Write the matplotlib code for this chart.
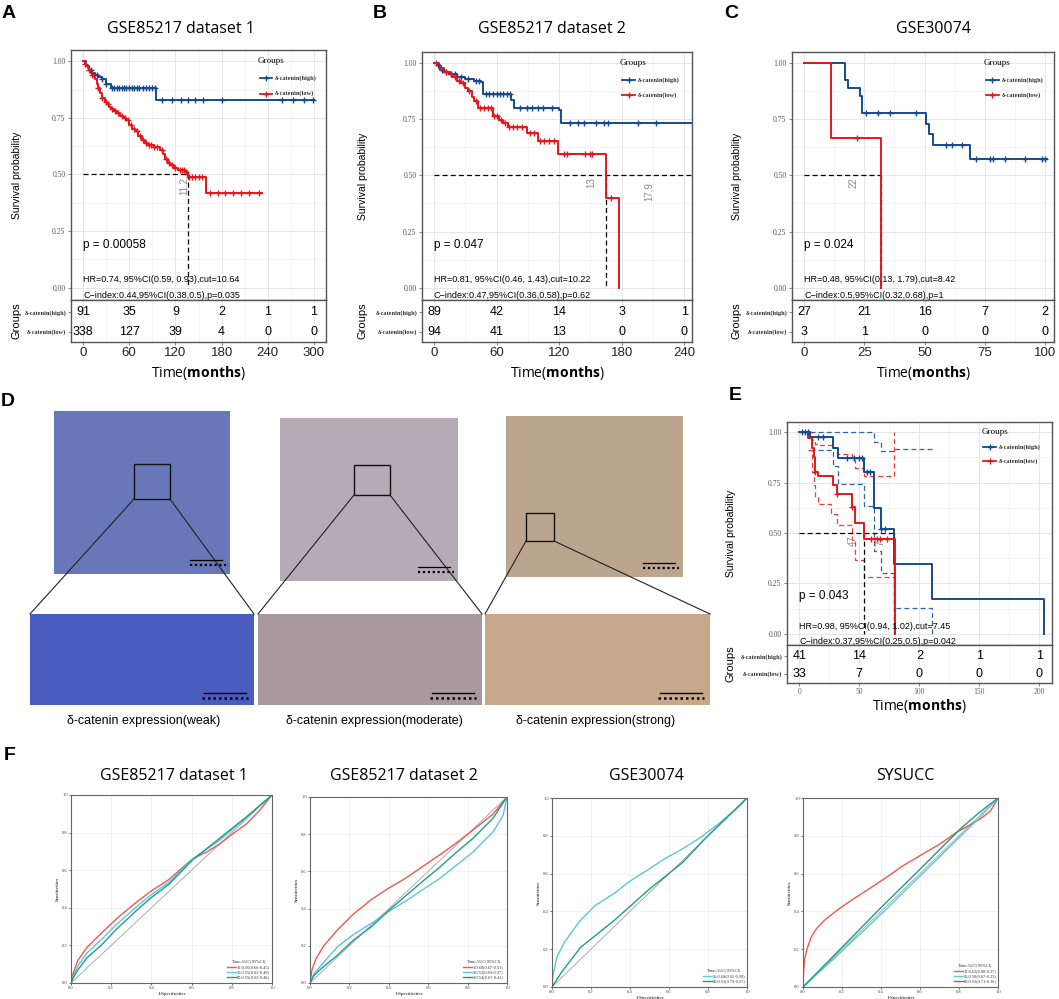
import numpy as np
import matplotlib
matplotlib.use('Agg')
import matplotlib.pyplot as plt
from matplotlib.patches import Rectangle
from matplotlib import font_manager

# ---------------- DATA ----------------
# Panel A  (GSE85217 dataset 1)
A_high_t = [0, 4, 8, 12, 16, 20, 25, 30, 36, 95]
A_high_s = [1.0, 0.98, 0.96, 0.95, 0.94, 0.93, 0.92, 0.90, 0.88, 0.83]
A_high_end = 300
A_low_t = [0, 2, 4, 6, 8, 10, 12, 14, 16, 18, 20, 22, 25, 28, 31, 34, 37, 40, 44, 48, 52, 56,
           60, 64, 68, 72, 76, 80, 84, 92, 100, 104, 106, 110, 113, 118, 124, 132, 136, 160]
A_low_s = [1.0, 0.99, 0.98, 0.97, 0.96, 0.95, 0.94, 0.93, 0.92, 0.90, 0.88, 0.86, 0.84, 0.82, 0.81,
           0.80, 0.79, 0.78, 0.77, 0.76, 0.75, 0.74, 0.72, 0.70, 0.69, 0.67, 0.65, 0.64, 0.63, 0.62,
           0.61, 0.59, 0.57, 0.55, 0.54, 0.53, 0.52, 0.51, 0.49, 0.42]
A_low_end = 232
A_high_cens = [10, 18, 25, 30, 38, 40, 44, 47, 50, 53, 56, 60, 63, 66, 70, 73, 78, 82, 86, 90, 93,
               103, 115, 127, 136, 146, 156, 180, 258, 273, 287, 299]
A_low_cens = [3, 8, 12, 20, 25, 30, 33, 38, 42, 46, 50, 55, 58, 62, 66, 70, 74, 78, 82, 86, 88, 92,
              96, 102, 108, 112, 116, 120, 126, 128, 131, 134, 138, 142, 146, 150, 154, 165, 175,
              185, 195, 205, 215, 228]
A_risk_t = [0, 60, 120, 180, 240, 300]
A_risk_high = [91, 35, 9, 2, 1, 1]
A_risk_low = [338, 127, 39, 4, 0, 0]

# Panel B  (GSE85217 dataset 2)
B_high_t = [0, 3, 6, 10, 15, 22, 30, 38, 45, 47, 74, 77, 120, 122]
B_high_s = [1.0, 0.99, 0.97, 0.96, 0.95, 0.94, 0.93, 0.92, 0.915, 0.864, 0.835, 0.80, 0.79, 0.733]
B_high_end = 250
B_low_t = [0, 5, 10, 14, 18, 22, 26, 30, 33, 36, 38, 42, 57, 62, 66, 71, 89, 100, 119, 165, 177]
B_low_s = [1.0, 0.98, 0.96, 0.95, 0.94, 0.92, 0.91, 0.89, 0.876, 0.85, 0.833, 0.80, 0.763, 0.745,
           0.733, 0.715, 0.687, 0.655, 0.597, 0.40, 0.0]
B_low_end = 177
B_high_cens = [4, 8, 12, 16, 20, 26, 33, 40, 43, 50, 53, 57, 60, 63, 66, 70, 73, 82.5, 89, 94, 100,
               105, 113, 130, 138, 144, 155.5, 163.5, 166.7, 195.5, 213]
B_low_cens = [2, 7, 12, 16, 20, 24, 28, 34, 40, 44, 48, 52, 55, 58, 60, 64, 68, 72, 76, 80, 84, 92,
              96, 102, 106, 110, 115, 125, 128, 145, 150, 152, 170]
B_risk_t = [0, 60, 120, 180, 240]
B_risk_high = [89, 42, 14, 3, 1]
B_risk_low = [94, 41, 13, 0, 0]

# Panel C  (GSE30074)
C_high_t = [0, 17, 18.4, 23.2, 24.2, 50.7, 52, 53.5, 68.7]
C_high_s = [1.0, 0.925, 0.889, 0.852, 0.78, 0.731, 0.683, 0.634, 0.572]
C_high_end = 101
C_low_t = [0, 11, 31.8]
C_low_s = [1.0, 0.667, 0.0]
C_low_end = 31.8
C_high_cens = [25.5, 30.5, 35.6, 46.4, 58.9, 61.5, 65.6, 71.3, 77.3, 78.5, 83.4, 91.7, 98.6, 100]
C_low_cens = [21.8]
C_risk_t = [0, 25, 50, 75, 100]
C_risk_high = [27, 21, 16, 7, 2]
C_risk_low = [3, 1, 0, 0, 0]

# Panel E  (SYSUCC)
E_high_t = [0, 8.9, 27.8, 32.5, 53.9, 62.2, 67.8, 78.9, 110.8, 203.9]
E_high_s = [1.0, 0.975, 0.922, 0.873, 0.80, 0.625, 0.52, 0.344, 0.172, 0.0]
E_high_end = 203.9
E_low_t = [0, 6.9, 10.5, 11.9, 13.3, 15.3, 27.8, 31.1, 43.6, 46.4, 53.9, 79.5]
E_low_s = [1.0, 0.97, 0.92, 0.875, 0.80, 0.78, 0.74, 0.694, 0.631, 0.549, 0.471, 0.0]
E_low_end = 79.5
E_high_cens = [1.9, 4.7, 7.5, 15.8, 20, 39.7, 45.3, 49.4, 52.2, 56.4, 59.2, 68.3, 71]
E_low_cens = [13.3, 31.1, 43.6, 59.7, 64.7, 67.5, 73]
E_high_up_t = [8.9, 62.2, 67.8, 78.9, 110.8]
E_high_up_s = [1.0, 0.95, 0.904, 0.915, 0.915]
E_high_lo_t = [8.9, 27.8, 32.5, 53.9, 62.2, 67.8, 78.9, 110.8]
E_high_lo_s = [0.91, 0.83, 0.745, 0.636, 0.413, 0.30, 0.13, 0.0]
E_low_up_t = [6.9, 10.5, 11.9, 13.3, 15.3, 27.8, 31.1, 43.6, 46.4, 53.9, 78.9]
E_low_up_s = [1.0, 0.96, 0.95, 0.94, 0.935, 0.92, 0.89, 0.86, 0.82, 0.78, 1.0]
E_low_lo_t = [6.9, 10.5, 11.9, 13.3, 15.3, 26.4, 31.1, 43.6, 46.4, 53.9, 78.9]
E_low_lo_s = [0.91, 0.80, 0.74, 0.68, 0.645, 0.595, 0.54, 0.463, 0.367, 0.284, 0.0]
E_risk_t = [0, 50, 100, 150, 200]
E_risk_high = [41, 14, 2, 1, 1]
E_risk_low = [33, 7, 0, 0, 0]

# ROC curves (F)
R1_red_x = [0, 0.01, 0.034, 0.08, 0.15, 0.23, 0.32, 0.40, 0.487, 0.55, 0.605, 0.68, 0.74, 0.80, 0.874, 0.94, 1.0]
R1_red_y = [0, 0.05, 0.12, 0.19, 0.264, 0.345, 0.425, 0.49, 0.55, 0.61, 0.66, 0.70, 0.74, 0.79, 0.847, 0.92, 1.0]
R1_cyan_x = [0, 0.01, 0.034, 0.08, 0.15, 0.23, 0.32, 0.40, 0.487, 0.605, 0.74, 0.874, 1.0]
R1_cyan_y = [0, 0.035, 0.09, 0.16, 0.23, 0.315, 0.40, 0.47, 0.535, 0.66, 0.76, 0.88, 1.0]
R1_teal_x = [0, 0.01, 0.034, 0.08, 0.15, 0.23, 0.32, 0.40, 0.487, 0.605, 0.74, 0.874, 1.0]
R1_teal_y = [0, 0.025, 0.07, 0.135, 0.20, 0.29, 0.38, 0.455, 0.525, 0.655, 0.77, 0.885, 1.0]
R2_red_x = [0, 0.01, 0.03, 0.07, 0.14, 0.22, 0.313, 0.40, 0.485, 0.57, 0.656, 0.74, 0.828, 0.93, 1.0]
R2_red_y = [0, 0.07, 0.13, 0.20, 0.286, 0.37, 0.45, 0.51, 0.563, 0.625, 0.687, 0.75, 0.823, 0.909, 1.0]
R2_cyan_x = [0, 0.02, 0.06, 0.14, 0.22, 0.313, 0.40, 0.485, 0.57, 0.656, 0.74, 0.828, 0.93, 0.98, 1.0]
R2_cyan_y = [0, 0.05, 0.10, 0.195, 0.26, 0.322, 0.385, 0.44, 0.50, 0.56, 0.63, 0.705, 0.814, 0.90, 1.0]
R2_teal_x = [0, 0.02, 0.06, 0.14, 0.22, 0.313, 0.40, 0.485, 0.57, 0.656, 0.74, 0.828, 0.93, 1.0]
R2_teal_y = [0, 0.04, 0.08, 0.15, 0.23, 0.304, 0.39, 0.468, 0.545, 0.62, 0.70, 0.778, 0.887, 1.0]
R3_cyan_x = [0, 0.005, 0.024, 0.06, 0.10, 0.147, 0.22, 0.321, 0.40, 0.496, 0.58, 0.67, 0.76, 0.845, 0.95, 1.0]
R3_cyan_y = [0, 0.06, 0.156, 0.23, 0.29, 0.354, 0.43, 0.497, 0.56, 0.623, 0.68, 0.731, 0.79, 0.856, 0.946, 1.0]
R3_teal_x = [0, 0.05, 0.147, 0.321, 0.496, 0.67, 0.79, 0.9, 1.0]
R3_teal_y = [0, 0.08, 0.21, 0.354, 0.515, 0.659, 0.79, 0.9, 1.0]
R4_red_x = [0, 0.002, 0.007, 0.02, 0.042, 0.07, 0.111, 0.18, 0.251, 0.34, 0.425, 0.51, 0.60, 0.70, 0.79, 0.86, 0.913, 0.96, 0.99, 1.0]
R4_red_y = [0, 0.06, 0.138, 0.20, 0.264, 0.31, 0.354, 0.41, 0.461, 0.52, 0.578, 0.64, 0.695, 0.755, 0.82, 0.86, 0.892, 0.93, 0.98, 1.0]
R4_cyan_x = [0, 0.2, 0.4, 0.6, 0.8, 0.9, 1.0]
R4_cyan_y = [0, 0.19, 0.385, 0.587, 0.79, 0.89, 1.0]
R4_teal_x = [0, 0.2, 0.4, 0.6, 0.8, 0.9, 1.0]
R4_teal_y = [0, 0.21, 0.42, 0.623, 0.83, 0.92, 1.0]
R1_leg = ["12:0.56(0.66-0.45)", "36:0.55(0.62-0.48)", "60:0.55(0.63-0.48)"]
R2_leg = ["1:0.60(0.67-0.53)", "3:0.53(0.69-0.37)", "5:0.54(0.67-0.41)"]
R3_leg = ["36:0.60(0.91-0.30)", "60:0.53(0.79-0.27)"]
R4_leg = ["12:0.63(0.90-0.37)", "36:0.50(0.67-0.33)", "60:0.53(0.71-0.36)"]

# ---------------- STYLE ----------------
W, H = 1059, 999
fig = plt.figure(figsize=(W / 100, H / 100), dpi=100)
avail = {f.name for f in font_manager.fontManager.ttflist}
SANS = 'Liberation Sans'
NARROW = 'Liberation Sans Narrow' if 'Liberation Sans Narrow' in avail else 'Liberation Sans'
SERIF = 'Liberation Serif'
TITLE = 'Open Sans' if 'Open Sans' in avail else 'DejaVu Sans'
plt.rcParams['mathtext.fontset'] = 'custom'
plt.rcParams['mathtext.rm'] = TITLE
plt.rcParams['mathtext.bf'] = TITLE + ':bold'
BLUE = '#174a8c'
RED = '#e3171c'
RROC = '#f0584f'
CROC = '#5cc6dc'
TROC = '#1e9e88'
GRID_MAJ = '#e6e6e6'
GRID_MIN = '#f2f2f2'


def add_ax(x0, y0, x1, y1):
    return fig.add_axes([x0 / W, 1 - y1 / H, (x1 - x0) / W, (y1 - y0) / H])


def ftext(x, y, s, **kw):
    fig.text(x / W, 1 - y / H, s, **kw)


# overlay for panel D / drawing
ov = fig.add_axes([0, 0, 1, 1], zorder=-1)
ov.set_xlim(0, W)
ov.set_ylim(H, 0)
ov.axis('off')


def surv_at(t, s, x):
    idx = np.searchsorted(np.asarray(t), np.asarray(x), side='right') - 1
    return np.asarray(s)[idx]


def km_panel(box, tbox, xlim, xticks, curves, cens, medians, medtexts, ptxt, hrtxt, citxt,
             risk, ylab_x, title=None, title_xy=None, ci=None, xlabel_y=None, small_ticks=False):
    ax = add_ax(*box)
    ax.set_xlim(*xlim)
    ax.set_ylim(-0.055, 1.05)
    major = xticks
    step = xticks[1] - xticks[0]
    minor = [v + step / 2 for v in xticks[:-1]] + [xticks[0] - step / 2, xticks[-1] + step / 2]
    for v in minor:
        ax.axvline(v, color=GRID_MIN, lw=0.5, zorder=0)
    for v in [0.125, 0.375, 0.625, 0.875]:
        ax.axhline(v, color=GRID_MIN, lw=0.5, zorder=0)
    for v in major:
        ax.axvline(v, color=GRID_MAJ, lw=0.7, zorder=0)
    for v in [0, 0.25, 0.5, 0.75, 1.0]:
        ax.axhline(v, color=GRID_MAJ, lw=0.7, zorder=0)
    ax.set_yticks([0, 0.25, 0.5, 0.75, 1.0])
    ax.set_yticklabels(['0.00', '0.25', '0.50', '0.75', '1.00'], fontfamily=SERIF, fontsize=5.5,
                       color='#555555')
    ax.set_xticks([])
    ax.tick_params(axis='y', length=2, width=0.5, color='#555555', pad=2)
    for sp in ax.spines.values():
        sp.set_color('#555555')
        sp.set_linewidth(1.0)
    # CI
    if ci is not None:
        for (t, s, col) in ci:
            ax.step(t, s, where='post', color=col, lw=0.9, ls=(0, (4, 2.5)), zorder=2)
    # median lines
    hx, vx = medians
    ax.plot([0, hx], [0.5, 0.5], color='black', lw=0.9, ls=(0, (4, 2.5)), zorder=2)
    for v in vx:
        ax.plot([v, v], [0.5, 0], color='black', lw=0.9, ls=(0, (4, 2.5)), zorder=2)
    for (x, y, s) in medtexts:
        ax.text(x, y, s, rotation=90, ha='center', va='top', fontsize=7, color='#8c8c8c',
                fontfamily=SANS, zorder=3)
    # curves
    for (t, s, end, col), c in zip(curves, cens):
        tt = list(t) + [end]
        ss = list(s) + [s[-1]]
        ax.step(tt, ss, where='post', color=col, lw=1.4, zorder=4)
        cy = surv_at(t, s, c)
        ax.plot(c, cy, ls='none', marker='+', ms=4.5, mew=1.0, color=col, zorder=5)
    ax.text(0, 0.19, ptxt, fontsize=8.5, fontfamily=SANS, va='center', ha='left', zorder=6)
    ax.text(0, 0.035, hrtxt, fontsize=6.5, fontfamily=SANS, va='center', ha='left', zorder=6)
    ax.text(0, -0.036, citxt, fontsize=6.5, fontfamily=SANS, va='center', ha='left', zorder=6,
            clip_on=True)
    # legend (manual)
    ax.text(0.733, 0.955, 'Groups', transform=ax.transAxes, fontsize=6.5, fontfamily=SERIF,
            va='center', ha='left')
    for yy, col, lab in [(0.888, BLUE, 'δ-catenin(high)'), (0.826, RED, 'δ-catenin(low)')]:
        ax.plot([0.74, 0.79], [yy, yy], color=col, lw=1.3, transform=ax.transAxes, clip_on=False)
        ax.plot([0.765], [yy], marker='+', ms=4, mew=1, color=col, transform=ax.transAxes,
                clip_on=False)
        ax.text(0.80, yy, lab, transform=ax.transAxes, fontsize=4.6, fontfamily=SERIF,
                fontweight='bold', va='center', ha='left', color='#333333')
    # risk table
    at = add_ax(*tbox)
    at.set_xlim(*xlim)
    at.set_ylim(0, 2)
    for v in minor:
        at.axvline(v, color=GRID_MIN, lw=0.5, zorder=0)
    for v in major:
        at.axvline(v, color=GRID_MAJ, lw=0.7, zorder=0)
    rt, rh, rl = risk
    for x, a, b in zip(rt, rh, rl):
        at.text(x, 1.42, str(a), ha='center', va='center', fontsize=9, fontfamily=NARROW)
        at.text(x, 0.48, str(b), ha='center', va='center', fontsize=9, fontfamily=NARROW)
    at.set_yticks([1.42, 0.48])
    at.set_yticklabels(['δ-catenin(high)', 'δ-catenin(low)'], fontfamily=SERIF, fontsize=4.6,
                       fontweight='bold', color='#333333')
    at.set_xticks(major)
    if small_ticks:
        at.set_xticklabels([str(v) for v in major], fontfamily=SERIF, fontsize=5.5,
                           color='#666666')
    else:
        at.set_xticklabels([str(v) for v in major], fontfamily=NARROW, fontsize=9.5,
                           color='#222222')
    at.tick_params(axis='both', length=2, width=0.5, color='#555555', pad=1.5)
    for sp in at.spines.values():
        sp.set_color('#555555')
        sp.set_linewidth(1.0)
    # labels
    ftext(ylab_x, (box[1] + box[3]) / 2, 'Survival probability', rotation=90, ha='center',
          va='center', fontsize=7.5, fontfamily=SANS)
    ftext(ylab_x, (tbox[1] + tbox[3]) / 2, 'Groups', rotation=90, ha='center', va='center',
          fontsize=8, fontfamily=SANS)
    ftext((box[0] + box[2]) / 2, xlabel_y, r'Time($\mathbf{months}$)', ha='center',
          va='center', fontsize=10, fontfamily=TITLE)
    if title:
        ftext(title_xy[0], title_xy[1], title, ha='center', va='center', fontsize=11.5,
              fontfamily=TITLE)
    return ax


# Panel A
km_panel((71, 50, 326, 300), (71, 300, 326, 342), (-15.6, 315.6), A_risk_t,
         [(A_high_t, A_high_s, A_high_end, BLUE), (A_low_t, A_low_s, A_low_end, RED)],
         [A_high_cens, A_low_cens], (136, [136]), [(131, 0.49, '11.2')],
         'p = 0.00058', 'HR=0.74, 95%CI(0.59, 0.93),cut=10.64',
         'C\u2212index:0.44,95%CI(0.38,0.5),p=0.035',
         (A_risk_t, A_risk_high, A_risk_low), 17, 'GSE85217 dataset 1', (181, 29), xlabel_y=373)
# Panel B
km_panel((422, 52, 692, 300), (422, 300, 692, 342), (-11.5, 247.5), B_risk_t,
         [(B_high_t, B_high_s, B_high_end, BLUE), (B_low_t, B_low_s, B_low_end, RED)],
         [B_high_cens, B_low_cens], (247.5, [165]), [(151, 0.49, '13'), (207, 0.47, '17.9')],
         'p = 0.047', 'HR=0.81, 95%CI(0.46, 1.43),cut=10.22',
         'C\u2212index:0.47,95%CI(0.36,0.58),p=0.62',
         (B_risk_t, B_risk_high, B_risk_low), 363, 'GSE85217 dataset 2', (552, 29), xlabel_y=373)
# Panel C
km_panel((792, 52, 1054, 300), (792, 300, 1054, 342), (-5, 103.7), C_risk_t,
         [(C_high_t, C_high_s, C_high_end, BLUE), (C_low_t, C_low_s, C_low_end, RED)],
         [C_high_cens, C_low_cens], (31.8, [31.8]), [(20.6, 0.49, '22')],
         'p = 0.024', 'HR=0.48, 95%CI(0.13, 1.79),cut=8.42',
         'C\u2212index:0.5,95%CI(0.32,0.68),p=1',
         (C_risk_t, C_risk_high, C_risk_low), 737, 'GSE30074', (933, 29), xlabel_y=373)
# Panel E
km_panel((787, 422, 1052, 645), (787, 645, 1052, 683), (-10.3, 210.6), E_risk_t,
         [(E_high_t, E_high_s, E_high_end, BLUE), (E_low_t, E_low_s, E_low_end, RED)],
         [E_high_cens, E_low_cens], (79, [53.9, 79]), [(44.7, 0.49, '47'), (68, 0.49, '77')],
         'p = 0.043', 'HR=0.98, 95%CI(0.94, 1.02),cut=7.45',
         'C\u2212index:0.37,95%CI(0.25,0.5),p=0.042',
         (E_risk_t, E_risk_high, E_risk_low), 731, xlabel_y=706, small_ticks=True,
         ci=[(E_high_up_t, E_high_up_s, '#2f64a8'), (E_high_lo_t, E_high_lo_s, '#2f64a8'),
             (E_low_up_t, E_low_up_s, '#ef3b3b'), (E_low_lo_t, E_low_lo_s, '#ef3b3b')])

# ---------------- Panel D (IHC images as flat colour fields) ----------------
top_imgs = [((54, 411, 230, 574), '#6877b8'), ((280, 418, 458, 581), '#b4abb4'),
            ((506, 416, 683, 577), '#bba58f')]
bot_imgs = [((30, 614, 254, 705), '#4b5cbf'), ((258, 614, 482, 705), '#a9999e'),
            ((485, 614, 710, 705), '#c7a88a')]
for (x0, y0, x1, y1), col in top_imgs + bot_imgs:
    ov.add_patch(Rectangle((x0, y0), x1 - x0, y1 - y0, facecolor=col, edgecolor='none'))
boxes = [(134, 464, 170, 499), (354, 465, 390, 495), (526, 513, 554, 541)]
for (x0, y0, x1, y1), ((bx0, by0, bx1, by1), _) in zip(boxes, bot_imgs):
    ov.add_patch(Rectangle((x0, y0), x1 - x0, y1 - y0, facecolor='none', edgecolor='#111111',
                           lw=1.0))
    ov.plot([x0, bx0], [y1, by0], color='#222222', lw=0.8)
    ov.plot([x1, bx1], [y1, by0], color='#222222', lw=0.8)
# scale bars
for (x0, y0, x1, y1), _ in top_imgs:
    ov.plot([x1 - 40, x1 - 8], [y1 - 14, y1 - 14], color='black', lw=0.9)
    ov.plot([x1 - 40, x1 - 4], [y1 - 9, y1 - 9], color='black', lw=1.6, ls=(0, (1, 1.2)))
for (x0, y0, x1, y1), _ in bot_imgs:
    ov.plot([x1 - 50, x1 - 8], [y1 - 12, y1 - 12], color='black', lw=1.0)
    ov.plot([x1 - 52, x1 - 6], [y1 - 7, y1 - 7], color='black', lw=1.8, ls=(0, (1, 1.2)))
for x, s in [(144, 'δ-catenin expression(weak)'), (374, 'δ-catenin expression(moderate)'),
             (596, 'δ-catenin expression(strong)')]:
    ftext(x, 721, s, ha='center', va='center', fontsize=9, fontfamily=SANS)

# ---------------- Panel F (ROC) ----------------
def roc_panel(box, title, title_x, curves, legs):
    ax = add_ax(*box)
    ax.set_xlim(0, 1)
    ax.set_ylim(0, 1)
    tk = [0, 0.2, 0.4, 0.6, 0.8, 1.0]
    for v in tk[1:-1]:
        ax.axvline(v, color='#ececec', lw=0.5, zorder=0)
        ax.axhline(v, color='#ececec', lw=0.5, zorder=0)
    ax.plot([0, 1], [0, 1], color='#a0a0a0', lw=0.6, zorder=1)
    for x, y, c in curves:
        ax.plot(x, y, color=c, lw=1.0, zorder=2)
    ax.set_xticks(tk)
    ax.set_yticks(tk)
    lab = ['0.0', '0.2', '0.4', '0.6', '0.8', '1.0']
    ax.set_xticklabels(lab, fontsize=3.3, fontfamily=SERIF, color='#444444')
    ax.set_yticklabels(lab, fontsize=3.3, fontfamily=SERIF, color='#444444')
    ax.tick_params(length=1.2, width=0.4, pad=1)
    ax.set_xlabel('1-Specificities', fontsize=3.5, fontfamily=SERIF, labelpad=1.5)
    ax.set_ylabel('Sensitivities', fontsize=3.5, fontfamily=SERIF, labelpad=2)
    for sp in ax.spines.values():
        sp.set_color('#666666')
        sp.set_linewidth(0.8)
    n = len(legs)
    ax.text(0.885, 0.03 + 0.028 * (n + 0.1), 'Time:AUC(95%CI)', transform=ax.transAxes,
            fontsize=3.2, fontfamily=SERIF, ha='center', va='center', color='#333333')
    for i, (s, c) in enumerate(zip(legs, [cv[2] for cv in curves])):
        yy = 0.03 + 0.028 * (n - 1 - i)
        ax.plot([0.775, 0.82], [yy, yy], color=c, lw=1.0, transform=ax.transAxes)
        ax.text(0.825, yy, s, transform=ax.transAxes, fontsize=3.2, fontfamily=SERIF,
                ha='left', va='center', color='#333333')
    ftext(title_x, 776, title, ha='center', va='center', fontsize=11.5, fontfamily=TITLE)


roc_panel((71, 795, 272, 983), 'GSE85217 dataset 1', 174,
          [(R1_red_x, R1_red_y, RROC), (R1_cyan_x, R1_cyan_y, CROC), (R1_teal_x, R1_teal_y, TROC)],
          R1_leg)
roc_panel((310, 797, 507, 983), 'GSE85217 dataset 2', 404,
          [(R2_red_x, R2_red_y, RROC), (R2_cyan_x, R2_cyan_y, CROC), (R2_teal_x, R2_teal_y, TROC)],
          R2_leg)
roc_panel((552, 798, 747, 987), 'GSE30074', 646,
          [(R3_cyan_x, R3_cyan_y, CROC), (R3_teal_x, R3_teal_y, TROC)], R3_leg)
roc_panel((803, 798, 998, 987), 'SYSUCC', 905,
          [(R4_red_x, R4_red_y, RROC), (R4_cyan_x, R4_cyan_y, CROC), (R4_teal_x, R4_teal_y, TROC)],
          R4_leg)

# panel letters
for x, y, s in [(9, 13, 'A'), (380, 13, 'B'), (731, 13, 'C'), (8, 401, 'D'), (735, 395, 'E'),
                (10, 756, 'F')]:
    ftext(x, y, s, ha='center', va='center', fontsize=14, fontweight='bold', fontfamily=SANS)

fig.savefig('out.png', dpi=100)
